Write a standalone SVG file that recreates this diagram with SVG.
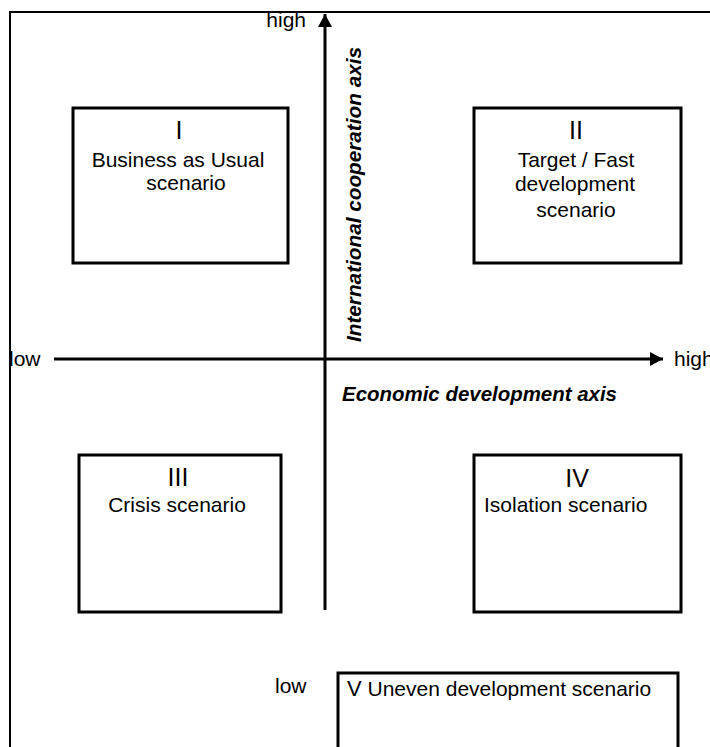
<svg xmlns="http://www.w3.org/2000/svg" width="710" height="747" viewBox="0 0 710 747">
<style>
.box{fill:#fff;stroke:#000;stroke-width:3}
.t{font-family:"Liberation Sans",Arial,sans-serif;font-size:21px;fill:#000}
.num{font-family:"Liberation Sans",Arial,sans-serif;font-size:25px;fill:#000}
.ax{font-family:"Liberation Sans",Arial,sans-serif;font-size:20px;font-weight:bold;font-style:italic;fill:#000}
.c{text-anchor:middle}
.line{stroke:#000;fill:none}
</style>
<defs>
<marker id="arr" markerWidth="14" markerHeight="14" refX="13" refY="7" orient="auto" markerUnits="userSpaceOnUse">
<path d="M0,0 L13,7 L0,14 Z" fill="#000"/>
</marker>
</defs>
<rect width="710" height="747" fill="#fff"/>
<g id="frame">
<path class="line" d="M10,747 V12 H710" stroke-width="2"/>
</g>
<g id="connectors">
<line class="line" x1="325" y1="610" x2="325" y2="14" stroke-width="3" marker-end="url(#arr)"/>
<line class="line" x1="54" y1="359" x2="663" y2="359" stroke-width="3" marker-end="url(#arr)"/>
</g>
<g id="axis-labels">
<text class="t" x="306" y="27" text-anchor="end">high</text>
<text class="t" x="9" y="366">low</text>
<text class="t" x="674" y="366">high</text>
<text class="t" x="275" y="693">low</text>
<text class="ax" x="342" y="401" textLength="275" lengthAdjust="spacingAndGlyphs">Economic development axis</text>
<text class="ax" transform="translate(361,342) rotate(-90)" textLength="295" lengthAdjust="spacingAndGlyphs">International cooperation axis</text>
</g>
<g id="node-I">
<rect class="box" x="73" y="108" width="215" height="155"/>
<text class="num c" x="179" y="139">I</text>
<text class="t c" x="178" y="167">Business as Usual</text>
<text class="t c" x="186" y="190">scenario</text>
</g>
<g id="node-II">
<rect class="box" x="474" y="108" width="207" height="155"/>
<text class="num c" x="576" y="139">II</text>
<text class="t c" x="576" y="167">Target / Fast</text>
<text class="t c" x="575" y="191">development</text>
<text class="t c" x="576" y="217">scenario</text>
</g>
<g id="node-III">
<rect class="box" x="79" y="455" width="202" height="157"/>
<text class="num c" x="178" y="486">III</text>
<text class="t c" x="177" y="512">Crisis scenario</text>
</g>
<g id="node-IV">
<rect class="box" x="474" y="455" width="207" height="157"/>
<text class="num c" x="577" y="487">IV</text>
<text class="t" x="484" y="512">Isolation scenario</text>
</g>
<g id="node-V">
<path class="box" d="M338,750 V673 H678 V750"/>
<text class="t" x="347" y="696" font-size="20"><tspan font-size="22">V</tspan> Uneven development scenario</text>
</g>
</svg>
